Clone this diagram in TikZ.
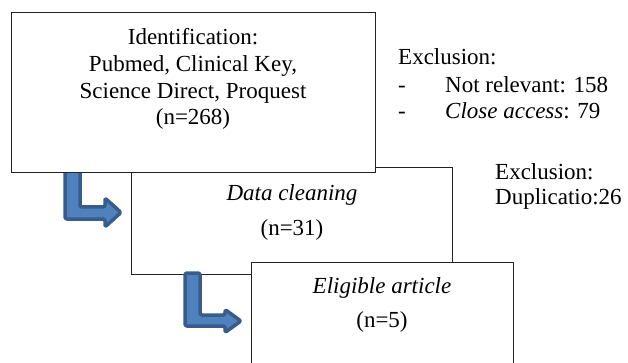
\documentclass[tikz,border=0pt]{standalone}
\usepackage{fontspec}
\setmainfont{Liberation Serif}
\definecolor{arrowfill}{HTML}{4F81BD}
\definecolor{arrowline}{HTML}{385D8A}
\definecolor{boxline}{HTML}{222222}
\begin{document}
\begin{tikzpicture}[x=1pt,y=-1pt,
  box/.style={draw=boxline,line width=1pt,fill=white},
  txt/.style={font=\fontsize{23}{27}\selectfont,inner sep=0pt,anchor=base},
  ltxt/.style={txt,anchor=base west},
  bent/.style={fill=arrowfill,draw=arrowline,line width=3.5pt,rounded corners=2pt,line join=round}]
\clip (0,0) rectangle (628,363);
% box 2
\draw[box] (131,168) rectangle (452,274);
\coordinate (b2nw) at (131,168);
% arrow 1 (below box 1)
\draw[bent] (65,160) -- (80,160) -- (80,207) -- (105,207) -- (105,198) -- (121,212.5) -- (105,227) -- (105,219) -- (65,219) -- cycle;
% box 1
\draw[box] (11,13) rectangle (375,173);
% box 3
\draw[box] (251,262) rectangle (513,380);
% arrow 2
\draw[bent] (185,273) -- (200,273) -- (200,315) -- (225,315) -- (225,309.5) -- (241,321) -- (225,332.5) -- (225,326) -- (185,326) -- cycle;
% box 1 text
\node[txt] (t1a) at (193,45) {Identification:};
\node[txt] (t1b) at (193,71.7) {Pubmed, Clinical Key,};
\node[txt] (t1c) at (193,98.4) {Science Direct, Proquest};
\node[txt] (t1d) at (193,125) {(n=268)};
% box 2 text
\node[txt] (t2a) at (292,200.5) {\itshape Data cleaning};
\node[txt] (t2b) at (292,235) {(n=31)};
% box 3 text
\node[txt] (t3a) at (382,293.7) {\itshape Eligible article};
\node[txt] (t3b) at (382,327) {(n=5)};
% exclusions
\node[ltxt] (e1) at (398,65) {Exclusion:};
\node[ltxt] (d1) at (398,92.5) {-};
\node[ltxt] (e1a) at (445,92.5) {Not relevant: 158};
\node[ltxt] (d2) at (398,119) {-};
\node[ltxt] (e1b) at (445,119) {\textit{Close access}: 79};
\node[ltxt] (e2) at (495,180) {Exclusion:};
\node[ltxt] (e2a) at (495,204.5) {Duplicatio:26};
\end{tikzpicture}
\end{document}
